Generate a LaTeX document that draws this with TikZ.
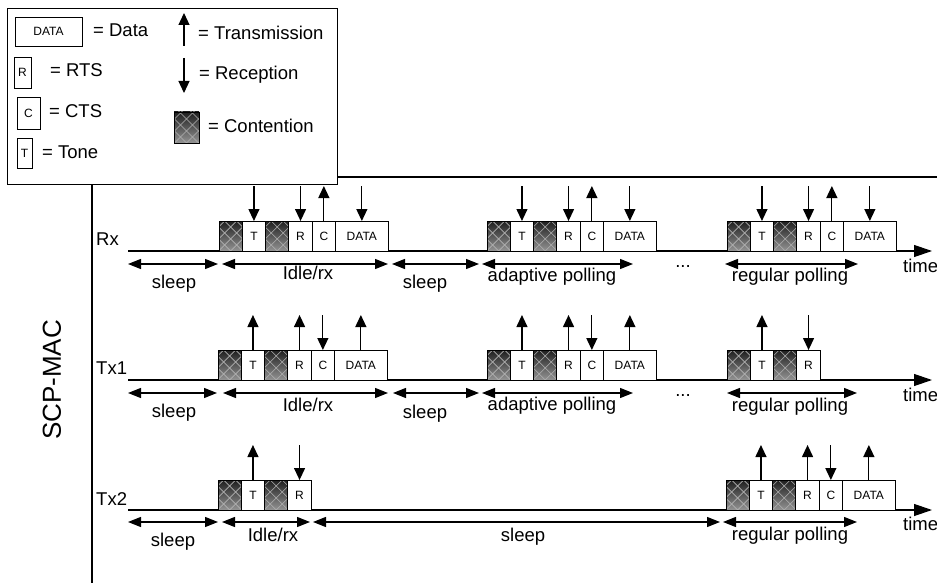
\documentclass[tikz,border=0pt]{standalone}
\usepackage{fontspec}
\setmainfont{Liberation Sans}
\usetikzlibrary{arrows.meta, positioning}
\tikzset{
  pkt/.style={rectangle, draw=black, line width=0.9pt, fill=white, inner sep=0pt, outer sep=0pt,
    minimum width=23.3pt, minimum height=30pt, font=\fontsize{12}{12}\selectfont},
  datapkt/.style={pkt, minimum width=52.7pt},
  contpkt/.style={pkt, top color=black!88, bottom color=black!42,
    path picture={\foreach \k in {-48,-36,...,48}{
      \draw[white!70!black, line width=0.6pt]
        ([xshift=\k pt]path picture bounding box.south) -- ++(40pt,40pt)
        ([xshift=\k pt]path picture bounding box.south) -- ++(-40pt,40pt);}}},
  sigarr/.style={line width=1.2pt, -{Triangle[length=12pt, width=11pt]}},
  durarr/.style={line width=1.2pt, {Triangle[length=13pt, width=10pt]}-{Triangle[length=13pt, width=10pt]}},
  timeline/.style={line width=1.2pt, -{Triangle[length=18pt, width=12pt]}},
  lbl/.style={inner sep=0pt, anchor=base},
}
% contention, tone, contention, RTS
\newcommand{\polling}[3]{%
  \node[contpkt, anchor=south west] (#1a) at (#2,#3) {};
  \node[pkt, right=0pt of #1a] (#1t) {T};
  \node[contpkt, right=0pt of #1t] (#1b) {};
  \node[pkt, right=0pt of #1b] (#1r) {R};}
% CTS and DATA after the RTS
\newcommand{\dataxfer}[1]{%
  \node[pkt, right=0pt of #1r] (#1c) {C};
  \node[datapkt, right=0pt of #1c] (#1d) {DATA};}
\newcommand{\txsig}[1]{\coordinate (#1s) at ([yshift=35pt]#1.north); \draw[sigarr] (#1.north) -- (#1s);}
\newcommand{\rxsig}[1]{\coordinate (#1s) at ([yshift=35pt]#1.north); \draw[sigarr] (#1s) -- (#1.north);}
\newcommand{\phaseline}[4]{\coordinate (#1l) at (#2,#4); \coordinate (#1r) at (#3,#4); \draw[durarr] (#1l) -- (#1r);}

\begin{document}
\begin{tikzpicture}[x=1pt, y=-1pt, font=\fontsize{18.5}{22}\selectfont]
\useasboundingbox (0,0) rectangle (937,583);
% frame
\coordinate (fbot) at (92,590);
\coordinate (fcorner) at (92,177);
\coordinate (fright) at (945,177);
\draw[line width=1.2pt] (fbot) -- (fcorner) -- (fright);
\node[rotate=90, font=\fontsize{26}{30}\selectfont] (mac) at (52,380) {SCP-MAC};

% legend
\node[draw, line width=1.2pt, fill=white, inner sep=0pt, minimum width=330pt, minimum height=176pt, anchor=north west] (legend) at (7,8) {};
\node[pkt, minimum width=67pt, minimum height=29pt] (kdata) at (48.5,31.5) {DATA};
\node[lbl, anchor=base west] (kdatat) at (93,37) {= Data};
\node[pkt, minimum width=17pt, minimum height=31pt] (krts) at (22.5,72.5) {R};
\node[lbl, anchor=base west] (krtst) at (50,77) {= RTS};
\node[pkt, minimum width=23pt, minimum height=32pt] (kcts) at (28.5,113) {C};
\node[lbl, anchor=base west] (kctst) at (49,118) {= CTS};
\node[pkt, minimum width=15pt, minimum height=30pt] (ktone) at (24.5,153) {T};
\node[lbl, anchor=base west] (ktonet) at (42,158) {= Tone};
\coordinate (ktx0) at (184,46); \coordinate (ktx1) at (184,13);
\draw[sigarr] (ktx0) -- (ktx1);
\node[lbl, anchor=base west] (ktxt) at (198,40) {= Transmission};
\coordinate (krx0) at (184,58); \coordinate (krx1) at (184,93);
\draw[sigarr] (krx0) -- (krx1);
\node[lbl, anchor=base west] (krxt) at (199,80) {= Reception};
\node[contpkt, minimum width=25pt, minimum height=31pt] (kcont) at (186.5,127.5) {};
\node[lbl, anchor=base west] (kcontt) at (208,132) {= Contention};

% Rx
\coordinate (rx0) at (128,251); \coordinate (rx1) at (932,251);
\draw[timeline] (rx0) -- (rx1);
\node[lbl, anchor=base west] (rxtime) at (903,272) {time};
\node[lbl, anchor=base west] (rx) at (96,245) {Rx};
\polling{rxA}{219}{251} \dataxfer{rxA}
\rxsig{rxAt} \rxsig{rxAr} \txsig{rxAc} \rxsig{rxAd}
\polling{rxB}{487}{251} \dataxfer{rxB}
\rxsig{rxBt} \rxsig{rxBr} \txsig{rxBc} \rxsig{rxBd}
\polling{rxC}{727}{251} \dataxfer{rxC}
\rxsig{rxCt} \rxsig{rxCr} \txsig{rxCc} \rxsig{rxCd}
\phaseline{rxP}{128}{218}{264} \phaseline{rxQ}{222}{388}{264}
\phaseline{rxR}{392}{479}{264} \phaseline{rxS}{482}{633}{264}
\phaseline{rxT}{725}{858}{264}
\node[lbl] (rxs1) at (174,288) {sleep};
\node[lbl] (rxi) at (308,279) {Idle/rx};
\node[lbl] (rxs2) at (425,288) {sleep};
\node[lbl] (rxa) at (552,281) {adaptive polling};
\node[lbl] (rxdots) at (683,267) {...};
\node[lbl] (rxr) at (790,281) {regular polling};

% Tx1
\coordinate (ta0) at (128,380); \coordinate (ta1) at (932,380);
\draw[timeline] (ta0) -- (ta1);
\node[lbl, anchor=base west] (tatime) at (903,401) {time};
\node[lbl, anchor=base west] (tx1) at (96,374) {Tx1};
\polling{taA}{218}{380} \dataxfer{taA}
\txsig{taAt} \txsig{taAr} \rxsig{taAc} \txsig{taAd}
\polling{taB}{487}{380} \dataxfer{taB}
\txsig{taBt} \txsig{taBr} \rxsig{taBc} \txsig{taBd}
\polling{taC}{727}{380}
\txsig{taCt} \rxsig{taCr}
\phaseline{taP}{128}{217}{393} \phaseline{taQ}{223}{388}{393}
\phaseline{taR}{393}{479}{393} \phaseline{taS}{482}{633}{393}
\phaseline{taT}{727}{857}{393}
\node[lbl] (tas1) at (174,417) {sleep};
\node[lbl] (tai) at (308,411) {Idle/rx};
\node[lbl] (tas2) at (425,418) {sleep};
\node[lbl] (taa) at (552,410) {adaptive polling};
\node[lbl] (tadots) at (683,396) {...};
\node[lbl] (tar) at (790,411) {regular polling};

% Tx2
\coordinate (tb0) at (128,510); \coordinate (tb1) at (932,510);
\draw[timeline] (tb0) -- (tb1);
\node[lbl, anchor=base west] (tbtime) at (903,530) {time};
\node[lbl, anchor=base west] (tx2) at (96,505) {Tx2};
\polling{tbA}{218}{510}
\txsig{tbAt} \rxsig{tbAr}
\polling{tbB}{726}{510} \dataxfer{tbB}
\txsig{tbBt} \txsig{tbBr} \rxsig{tbBc} \txsig{tbBd}
\phaseline{tbP}{128}{218}{522} \phaseline{tbQ}{222}{310}{522}
\phaseline{tbR}{313}{720}{522} \phaseline{tbS}{723}{857}{522}
\node[lbl] (tbs1) at (173,546) {sleep};
\node[lbl] (tbi) at (273,541) {Idle/rx};
\node[lbl] (tbs2) at (523,541) {sleep};
\node[lbl] (tbr) at (790,540) {regular polling};
\end{tikzpicture}
\end{document}
